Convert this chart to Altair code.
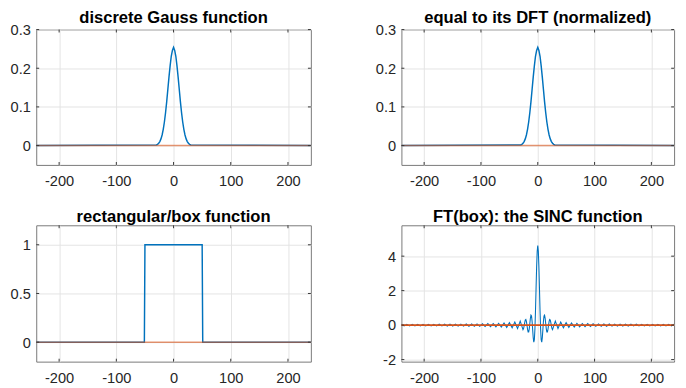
import altair as alt
import pandas as pd

BLUE = "#0072BD"
ORANGE = "#D95319"
FONT = "Liberation Sans"

# ---- data ----
x_range = [-240, 240]
x_ticks = [-200, -100, 0, 100, 200]

# discrete Gauss function (real part); identical to its normalized DFT
gauss_x = [-240, -30, -28, -26, -24, -22, -20, -18, -16, -14, -12, -10, -8, -6, -4, -2,
           0, 2, 4, 6, 8, 10, 12, 14, 16, 18, 20, 22, 24, 26, 28, 30, 240]
gauss_y = [0, 0.0017, 0.0033, 0.0060, 0.0104, 0.0173, 0.0275, 0.042, 0.061, 0.085, 0.113,
           0.145, 0.177, 0.206, 0.231, 0.246, 0.254, 0.246, 0.231, 0.206, 0.177, 0.145,
           0.113, 0.085, 0.061, 0.042, 0.0275, 0.0173, 0.0104, 0.0060, 0.0033, 0.0017, 0]
gauss_ydom = [-0.05, 0.3]
gauss_yticks = [0, 0.1, 0.2, 0.3]

# rectangular / box function
box_x = [-240, -51, -50, 50, 51, 240]
box_y = [0, 0, 1, 1, 0, 0]
box_ydom = [-0.2, 1.2]
box_yticks = [0, 0.5, 1]

# FT(box): sinc, positive half (even function), peak at 0
sinc_peak = 4.61
sinc_x_pos = [1, 2, 3, 4, 5, 6, 7, 8, 9, 10, 11, 12, 13, 14, 15, 16, 17, 18, 19, 20,
              21, 22, 23, 24, 25, 26, 30.9, 35.6, 40.4, 45.1, 49.9, 54.7, 59.4, 64.2,
              68.9, 73.7, 78.4, 83.2, 87.9, 92.7, 97.4, 102.2, 106.9, 111.7, 116.4,
              121.2, 125.9, 130.7, 135.4, 140.2, 144.9, 149.7, 154.5, 159.2, 164.0,
              168.7, 173.5, 178.2, 183.0, 187.7, 192.5, 197.2, 202.0, 206.7, 211.5,
              216.2, 221.0, 225.7, 230.5, 235.3, 240.0]
sinc_y_pos = [4.282, 3.380, 2.130, 0.832, -0.227, -0.850, -0.993, -0.732, -0.254, 0.224,
              0.530, 0.580, 0.397, 0.084, -0.218, -0.398, -0.399, -0.241, -0.002, 0.213,
              0.322, 0.292, 0.147, -0.046, -0.204, -0.268, 0.227, -0.197, 0.175, -0.157,
              0.142, -0.130, 0.120, -0.112, 0.105, -0.098, 0.093, -0.088, 0.084, -0.080,
              0.077, -0.074, 0.071, -0.068, 0.066, -0.064, 0.062, -0.060, 0.059, -0.058,
              0.056, -0.055, 0.054, -0.053, 0.052, -0.051, 0.050, -0.050, 0.049, -0.048,
              0.048, -0.047, 0.047, -0.047, 0.046, -0.046, 0.046, -0.046, 0.046, -0.046,
              0.046]
sinc_ydom = [-2.12, 5.79]
sinc_yticks = [-2, 0, 2, 4]

sinc_x = [-v for v in reversed(sinc_x_pos)] + [0] + sinc_x_pos
sinc_y = list(reversed(sinc_y_pos)) + [sinc_peak] + sinc_y_pos

zero_x = [-240, 240]
zero_y = [0, 0]

LABEL_EXPR = "datum.value + ''"


def panel(title, bx, by, ydom, yticks, width, height, orange_opacity, blue_w, t_off):
    xs = alt.Scale(domain=x_range, nice=False, zero=False)
    ys = alt.Scale(domain=ydom, nice=False, zero=False)
    xa = alt.Axis(values=x_ticks, labelExpr=LABEL_EXPR, title=None)
    ya = alt.Axis(values=yticks, labelExpr=LABEL_EXPR, title=None)
    blue_df = pd.DataFrame({"x": bx, "y": by, "i": list(range(len(bx)))})
    zero_df = pd.DataFrame({"x": zero_x, "y": zero_y, "i": [0, 1]})
    xt_df = pd.DataFrame({"x": x_ticks})
    yt_df = pd.DataFrame({"y": yticks})

    blue = alt.Chart(blue_df).mark_line(color=BLUE, strokeWidth=blue_w, clip=True).encode(
        x=alt.X("x:Q", scale=xs, axis=xa),
        y=alt.Y("y:Q", scale=ys, axis=ya),
        order="i:Q",
    )
    orange = alt.Chart(zero_df).mark_line(color=ORANGE, strokeWidth=1.6,
                                          opacity=orange_opacity).encode(
        x=alt.X("x:Q", scale=xs, axis=xa),
        y=alt.Y("y:Q", scale=ys, axis=ya),
        order="i:Q",
    )
    tk = dict(color="#333333", strokeWidth=1)
    xb = alt.Chart(xt_df).mark_rule(**tk).encode(
        x=alt.X("x:Q", scale=xs, axis=xa), y=alt.value(height), y2=alt.value(height - 3))
    xtop = alt.Chart(xt_df).mark_rule(**tk).encode(
        x=alt.X("x:Q", scale=xs, axis=xa), y=alt.value(0), y2=alt.value(3))
    yl = alt.Chart(yt_df).mark_rule(**tk).encode(
        y=alt.Y("y:Q", scale=ys, axis=ya), x=alt.value(0), x2=alt.value(3))
    yr = alt.Chart(yt_df).mark_rule(**tk).encode(
        y=alt.Y("y:Q", scale=ys, axis=ya), x=alt.value(width), x2=alt.value(width - 3))

    return alt.layer(blue, orange, xb, xtop, yl, yr).properties(
        width=width, height=height,
        title=alt.Title(title, fontSize=17, fontWeight="bold", font=FONT,
                        color="#000000", frame="group", anchor="middle", offset=t_off),
    )


tl = panel("discrete Gauss function", gauss_x, gauss_y, gauss_ydom, gauss_yticks, 282, 139, 0.6, 1.5, -4)
tr = panel("equal to its DFT (normalized)", gauss_x, gauss_y, gauss_ydom, gauss_yticks, 280, 139, 0.6, 1.5, -4)
bl = panel("rectangular/box function", box_x, box_y, box_ydom, box_yticks, 282, 140, 0.6, 1.5, -1)
br = panel("FT(box): the SINC function", sinc_x, sinc_y, sinc_ydom, sinc_yticks, 280, 140, 1.0, 1.1, -1)

chart = alt.vconcat(
    alt.hconcat(tl, tr, spacing=60),
    alt.hconcat(bl, br, spacing=60),
    spacing=19,
).properties(
    padding={"top": -5, "left": 0, "right": 0, "bottom": 0}, background="white"
).configure_view(
    stroke="#777777", strokeWidth=1
).configure_axis(
    grid=True, gridColor="#e3e3e3", gridWidth=1, domain=False, ticks=False,
    labelFont=FONT, labelFontSize=15, labelColor="#262626",
).configure_axisY(
    labelPadding=6, minExtent=28,
).configure_axisX(
    labelPadding=9,
)

chart.save("out.html", embed_options={"renderer": "svg", "actions": False})
